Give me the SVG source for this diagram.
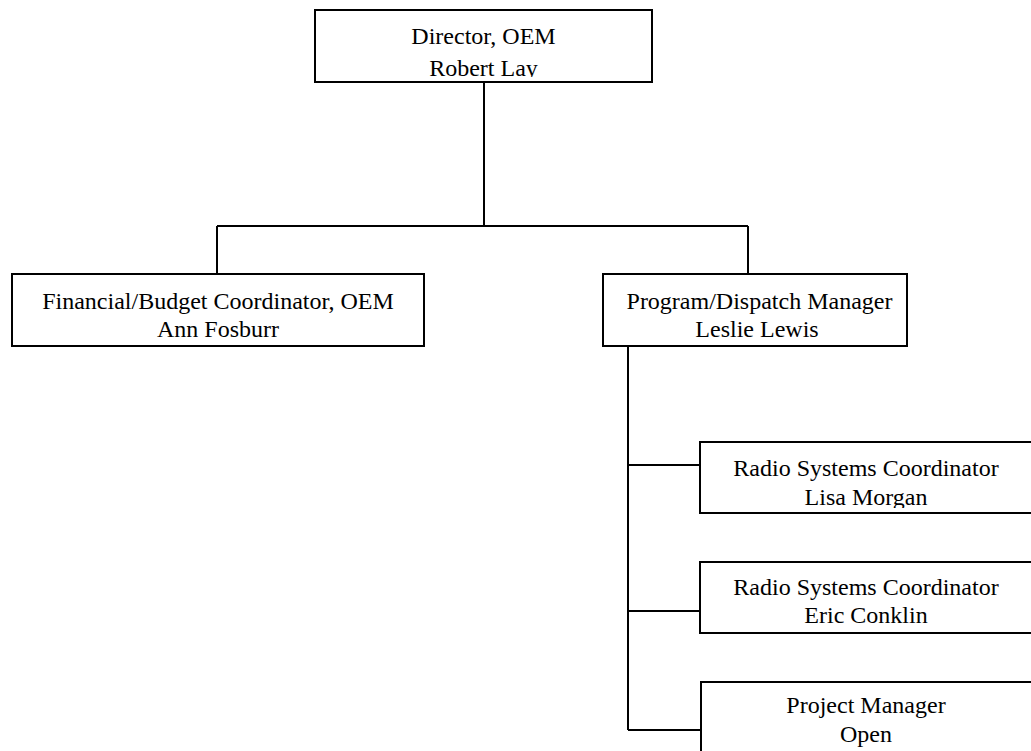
<svg xmlns="http://www.w3.org/2000/svg" width="1031" height="751" viewBox="0 0 1031 751">
<style>
.box{fill:#fff;stroke:#000;stroke-width:2}
.t{font-family:"Liberation Serif","Times New Roman",serif;font-size:24px;fill:#000;text-anchor:middle}
.c{fill:none;stroke:#000;stroke-width:2}
</style>
<defs>
<clipPath id="cDir"><rect x="316" y="11" width="335" height="66"/></clipPath>
<clipPath id="cFin"><rect x="13" y="275" width="410" height="67"/></clipPath>
<clipPath id="cPro"><rect x="604" y="275" width="302" height="67"/></clipPath>
<clipPath id="cR1"><rect x="701" y="443" width="340" height="65"/></clipPath>
<clipPath id="cR2"><rect x="701" y="563" width="340" height="66"/></clipPath>
<clipPath id="cPM"><rect x="702" y="683" width="340" height="80"/></clipPath>
</defs>
<g id="connectors">
<path class="c" d="M484,82 V226 M217,226 H748 M217,226 V274 M748,226 V274"/>
<path class="c" d="M628,346 V730 M628,465 H700 M628,611 H700 M628,730 H701"/>
</g>
<g id="director">
<rect class="box" x="315" y="10" width="337" height="72"/>
<g clip-path="url(#cDir)"><text class="t" x="483.5" y="44">Director, OEM</text><text class="t" x="483.5" y="75.5">Robert Lay</text></g>
</g>
<g id="financial">
<rect class="box" x="12" y="274" width="412" height="72"/>
<g clip-path="url(#cFin)"><text class="t" x="218" y="309">Financial/Budget Coordinator, OEM</text><text class="t" x="218" y="337">Ann Fosburr</text></g>
</g>
<g id="program">
<rect class="box" x="603" y="274" width="304" height="72"/>
<g clip-path="url(#cPro)"><text class="t" x="759.5" y="309">Program/Dispatch Manager</text><text class="t" x="757" y="337">Leslie Lewis</text></g>
</g>
<g id="radio1">
<rect class="box" x="700" y="442" width="340" height="71"/>
<g clip-path="url(#cR1)"><text class="t" x="866" y="476">Radio Systems Coordinator</text><text class="t" x="866" y="505">Lisa Morgan</text></g>
</g>
<g id="radio2">
<rect class="box" x="700" y="562" width="340" height="71"/>
<g clip-path="url(#cR2)"><text class="t" x="866" y="595">Radio Systems Coordinator</text><text class="t" x="866" y="623">Eric Conklin</text></g>
</g>
<g id="project">
<rect class="box" x="701" y="682" width="340" height="90"/>
<g clip-path="url(#cPM)"><text class="t" x="866" y="713">Project Manager</text><text class="t" x="866" y="742">Open</text></g>
</g>
</svg>
